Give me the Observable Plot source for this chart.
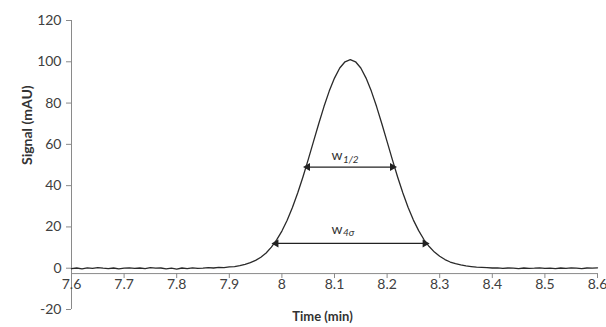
<!DOCTYPE html>
<html>
<head>
<meta charset="utf-8">
<script src="https://cdn.jsdelivr.net/npm/d3@7"></script>
<script src="https://cdn.jsdelivr.net/npm/@observablehq/plot@0.6"></script>
<style>
  html, body { margin: 0; padding: 0; background: #fff; }
  #chart svg { display: block; }
</style>
</head>
<body>
<div id="chart"></div>
<script>
// ---- data ----
const times = [
  7.60,7.61,7.62,7.63,7.64,7.65,7.66,7.67,7.68,7.69,
  7.70,7.71,7.72,7.73,7.74,7.75,7.76,7.77,7.78,7.79,
  7.80,7.81,7.82,7.83,7.84,7.85,7.86,7.87,7.88,7.89,
  7.90,7.91,7.92,7.93,7.94,7.95,7.96,7.97,7.98,7.99,
  8.00,8.01,8.02,8.03,8.04,8.05,8.06,8.07,8.08,8.09,
  8.10,8.11,8.12,8.13,8.14,8.15,8.16,8.17,8.18,8.19,
  8.20,8.21,8.22,8.23,8.24,8.25,8.26,8.27,8.28,8.29,
  8.30,8.31,8.32,8.33,8.34,8.35,8.36,8.37,8.38,8.39,
  8.40,8.41,8.42,8.43,8.44,8.45,8.46,8.47,8.48,8.49,
  8.50,8.51,8.52,8.53,8.54,8.55,8.56,8.57,8.58,8.59,
  8.60
];
const signal = [
  -0.2,0.1,-0.3,0.2,-0.1,0.3,0.0,-0.2,0.1,-0.3,
  0.0,0.2,-0.1,0.1,-0.2,0.3,0.0,0.1,-0.3,0.0,
  -0.4,0.1,-0.2,0.2,-0.1,0.0,0.3,0.1,0.4,0.3,
  0.6,0.8,1.3,1.9,2.7,3.8,5.3,7.4,10.2,13.7,
  18.0,23.2,29.4,36.4,44.2,52.6,61.3,70.0,78.3,85.8,
  92.1,97.0,100.0,101.0,100.0,97.0,92.1,85.8,78.3,70.0,
  61.3,52.6,44.2,36.4,29.4,23.3,18.2,13.9,10.5,7.8,
  5.8,4.2,3.0,2.2,1.6,1.1,0.8,0.5,0.4,0.3,
  0.1,0.2,-0.1,0.1,0.0,-0.2,0.1,-0.1,0.0,0.2,
  -0.1,0.0,-0.2,0.1,-0.1,0.2,0.0,-0.2,0.1,0.0,
  0.2
];
const xTicks = [7.6,7.7,7.8,7.9,8.0,8.1,8.2,8.3,8.4,8.5,8.6];
const xTickLabels = ["7.6","7.7","7.8","7.9","8","8.1","8.2","8.3","8.4","8.5","8.6"];
const yTicks = [-20,0,20,40,60,80,100,120];
const yTickLabels = ["-20","0","20","40","60","80","100","120"];
const xAxisAt = -2.6;

// width markers
const widthNames = ["1/2", "4σ"];
const widthLevels = [49, 12];
const widthStart = [8.049, 7.989];
const widthEnd = [8.210, 8.272];
const widthLabelY = [54.7, 18.9];
const widthLabelX = [8.115, 8.115];

const series = times.map((t, i) => ({t, v: signal[i]}));
const widths = widthNames.map((n, i) => ({
  name: n, y: widthLevels[i], x1: widthStart[i], x2: widthEnd[i],
  ly: widthLabelY[i], lx: widthLabelX[i]
}));
const xt = xTicks.map((x, i) => ({x, label: xTickLabels[i]}));

const font = "Lato, 'Open Sans', sans-serif";
const axisColor = "#8a8a8a";
const textColor = "#404040";

const chart = Plot.plot({
  width: 606,
  height: 327,
  marginLeft: 71,
  marginRight: 9,
  marginTop: 20,
  marginBottom: 18,
  style: {fontFamily: font, fontSize: "14px", color: textColor, background: "#fff"},
  x: {domain: [7.6, 8.6], axis: null},
  y: {domain: [-20, 120], axis: null},
  marks: [
    // y axis
    Plot.axisY(yTicks, {tickSize: 5, tickPadding: 5, label: null, stroke: axisColor, fill: textColor, fontSize: 14,
      tickFormat: (d) => yTickLabels[yTicks.indexOf(d)]}),
    Plot.ruleX([7.6], {y1: -20, y2: 120, stroke: axisColor}),
    // x axis crossing near zero
    Plot.ruleY([xAxisAt], {x1: 7.6, x2: 8.6, stroke: axisColor}),
    Plot.ruleX(xt, {x: "x", y1: xAxisAt, y2: xAxisAt - 2.4, stroke: axisColor}),
    Plot.text(xt, {x: "x", y: xAxisAt, text: "label", dy: 11, fill: textColor, fontSize: 14}),
    // signal trace
    Plot.line(series, {x: "t", y: "v", stroke: "#2a2a2a", strokeWidth: 1.3, curve: "linear"}),
    // width arrows
    Plot.link(widths, {x1: "x1", x2: "x2", y1: "y", y2: "y", stroke: "#222", strokeWidth: 1.2}),
    Plot.dot(widths, {x: "x1", y: "y", symbol: "triangle", rotate: -90, r: 3, fill: "#222", stroke: "none"}),
    Plot.dot(widths, {x: "x2", y: "y", symbol: "triangle", rotate: 90, r: 3, fill: "#222", stroke: "none"}),
    Plot.text(widths, {x: "lx", y: "ly", text: () => "w", textAnchor: "end", fontSize: 14, fill: "#333"}),
    Plot.text(widths, {x: "lx", y: "ly", text: "name", textAnchor: "start", dx: 0.5, dy: 4, fontSize: 10, fontStyle: "italic", fill: "#333"}),
    // axis titles
    Plot.text(["Signal (mAU)"], {frameAnchor: "left", rotate: -90, dx: -44, fontWeight: "bold", fontSize: 14, fill: "#333"}),
    Plot.text(["Time (min)"], {frameAnchor: "bottom", dx: -12, dy: 11, fontWeight: "bold", fontSize: 13, fill: "#333"})
  ]
});
document.getElementById("chart").appendChild(chart);
</script>
</body>
</html>
